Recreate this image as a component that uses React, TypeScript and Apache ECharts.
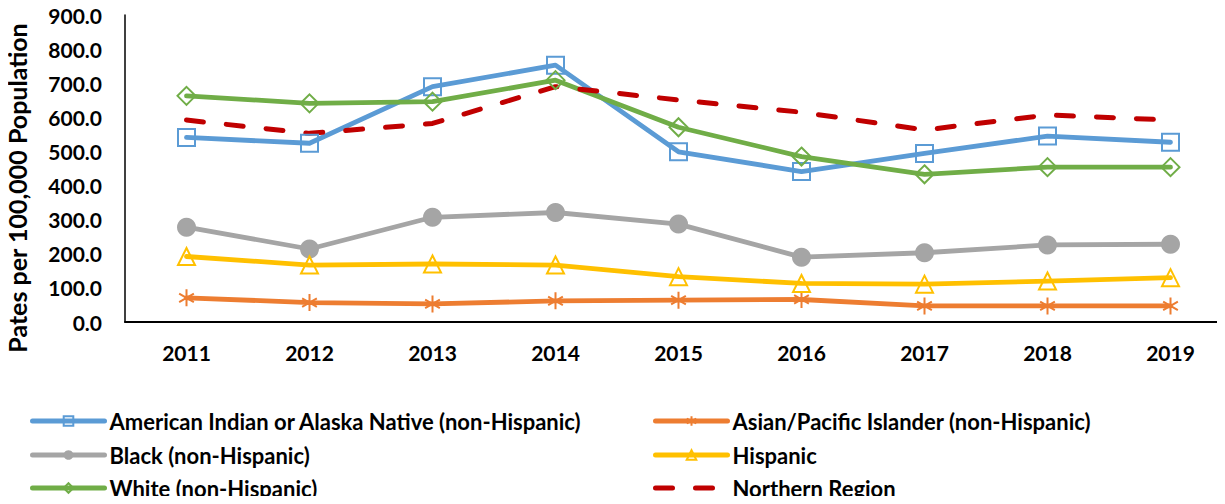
import React, { useEffect, useRef } from "react";
import * as echarts from "echarts";

const years = ["2011", "2012", "2013", "2014", "2015", "2016", "2017", "2018", "2019"];
const americanIndian = [541, 524, 690, 753, 499, 441, 494, 545, 527];
const asianPacific = [71, 57, 53, 62, 64, 66, 47, 47, 47];
const black = [278, 214, 307, 321, 287, 190, 203, 226, 228];
const hispanic = [192, 167, 170, 167, 133, 113, 111, 120, 130];
const white = [663, 641, 646, 709, 571, 485, 433, 454, 454];
const northern = [592, 553, 582, 690, 651, 615, 563, 607, 592];

const FONT = "Lato";

const NAMES = {
  ai: "American Indian or Alaska Native (non-Hispanic)",
  asian: "Asian/Pacific Islander (non-Hispanic)",
  black: "Black (non-Hispanic)",
  hisp: "Hispanic",
  white: "White (non-Hispanic)",
  north: "Northern Region",
};

export default function App() {
  const ref = useRef<HTMLDivElement>(null);
  useEffect(() => {
    const chart = echarts.init(ref.current!, null, { renderer: "svg" });
    const lineSeries = (name: string, data: number[], color: string, symbol: string, symbolSize: number, filled: boolean) => ({
      name,
      type: "line",
      data,
      symbol,
      symbolSize,
      symbolKeepAspect: true,
      showAllSymbol: true,
      lineStyle: { color, width: 4.8, cap: "round", join: "round" },
      itemStyle: filled
        ? { color, borderColor: color, borderWidth: 0 }
        : { color: "rgba(255,255,255,0)", borderColor: color, borderWidth: 2 },
      emphasis: { disabled: true },
    });
    const legendText = { color: "#000", fontFamily: FONT, fontWeight: "bold", fontSize: 22 };
    const mkLegend = (name: string, left: number, rowY: number, extra: any = {}) => ({
      orient: "horizontal",
      left,
      top: rowY - 18,
      itemWidth: 72,
      itemHeight: 12,
      textStyle: legendText,
      lineStyle: { width: 5 },
      selectedMode: false,
      data: [{ name, ...extra }],
    });
    chart.setOption({
      animation: false,
      grid: { left: 125, right: 0, top: 15, bottom: 182, containLabel: false },
      legend: [
        mkLegend(NAMES.ai, 25, 423),
        mkLegend(NAMES.black, 25, 457),
        mkLegend(NAMES.white, 25, 490),
        mkLegend(NAMES.asian, 648, 423),
        mkLegend(NAMES.hisp, 648, 457),
        mkLegend(NAMES.north, 648, 490, { itemStyle: { color: "rgba(0,0,0,0)", borderWidth: 0, opacity: 0 } }),
      ],
      xAxis: {
        type: "category",
        data: years,
        boundaryGap: true,
        axisLine: { lineStyle: { color: "#000", width: 2 } },
        axisTick: { show: false },
        axisLabel: { color: "#000", fontFamily: FONT, fontWeight: "bold", fontSize: 21, margin: 20 },
      },
      yAxis: {
        type: "value",
        min: 0,
        max: 900,
        interval: 100,
        axisLine: { show: true, lineStyle: { color: "#000", width: 1.5 } },
        axisTick: { show: false },
        splitLine: { show: false },
        axisLabel: {
          color: "#000",
          fontFamily: FONT,
          fontWeight: "bold",
          fontSize: 21,
          margin: 23,
          formatter: (v: number) => v.toFixed(1),
        },
      },
      graphic: [
        {
          type: "text",
          x: 17,
          y: 188,
          rotation: Math.PI / 2,
          style: {
            text: "Pates per 100,000 Population",
            fill: "#000",
            font: `bold 25px ${FONT}`,
            textAlign: "center",
            textVerticalAlign: "middle",
          },
        },
      ],
      series: [
        lineSeries(NAMES.ai, americanIndian, "#5B9BD5", "rect", 17, false),
        lineSeries(NAMES.asian, asianPacific, "#ED7D31", "path://M10,0L10,20M1.34,5L18.66,15M1.34,15L18.66,5", 17, false),
        lineSeries(NAMES.black, black, "#A5A5A5", "circle", 19, true),
        lineSeries(NAMES.hisp, hispanic, "#FFC000", "triangle", 17, false),
        lineSeries(NAMES.white, white, "#70AD47", "diamond", 18, false),
        {
          name: NAMES.north,
          type: "line",
          data: northern,
          symbol: "none",
          lineStyle: { color: "#C00000", width: 5, type: [17, 23], cap: "round" },
          itemStyle: { color: "#C00000" },
          emphasis: { disabled: true },
        },
      ],
    });
    return () => chart.dispose();
  }, []);
  return (
    <div style={{ width: 1225, height: 504, margin: -8, overflow: "hidden", position: "relative" }}>
      <div ref={ref} style={{ width: 1232, height: 504 }} />
    </div>
  );
}
